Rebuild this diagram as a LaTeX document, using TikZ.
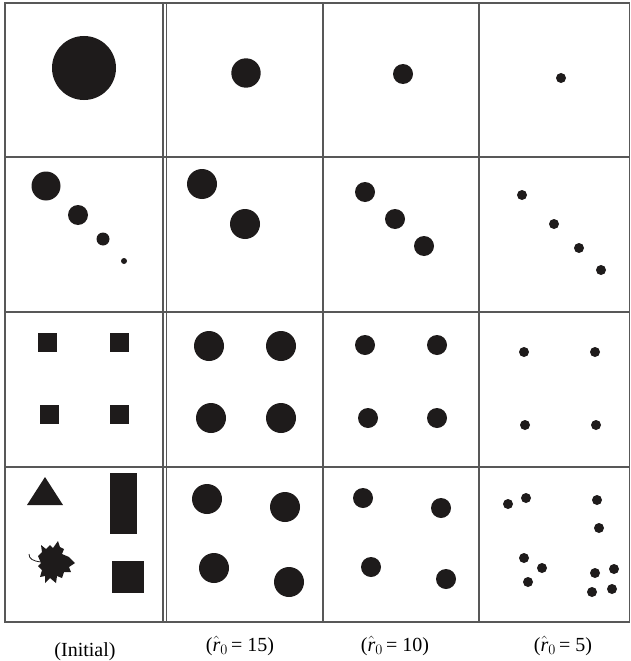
\documentclass[tikz,border=0pt]{standalone}
\usepackage{fontspec}
\setmainfont{Liberation Serif}
\usetikzlibrary{positioning}
\definecolor{GridGray}{RGB}{88,88,88}
\definecolor{InkBlack}{RGB}{30,27,27}

\newcommand{\rhatzero}{\(\hat{\mbox{\itshape r}}_{0}\)}

\tikzset{
  gridline/.style={GridGray,line width=1.1pt},
  blob/.style={fill=InkBlack},
  caption/.style={anchor=base,font=\fontsize{20}{23}\selectfont,inner sep=0pt}
}

\begin{document}
\begin{tikzpicture}[x=1pt,y=-1pt]
  \useasboundingbox (0,0) rectangle (631,661);
  % table lines
  \draw[gridline] (5,3) rectangle (629.5,622);
  \draw[gridline] (163,3)--(163,622);
  \draw[gridline] (166.5,3)--(166.5,622);
  \draw[gridline] (323,3)--(323,622);
  \draw[gridline] (479,3)--(479,622);
  \draw[gridline] (5,157)--(629.5,157);
  \draw[gridline] (5,312)--(629.5,312);
  \draw[gridline] (5,467)--(629.5,467);

  % row 1: one disc
  \fill[blob] (84,68) circle (32);
  \fill[blob] (246,73) circle (14.7);
  \fill[blob] (403,74) circle (10);
  \fill[blob] (561,78) circle (5);

  % row 2: discs on a diagonal
  \fill[blob] (46,186) circle (14.5);
  \fill[blob] (78,215) circle (10);
  \fill[blob] (103,239) circle (6.5);
  \fill[blob] (124,261) circle (3);
  \fill[blob] (202,184) circle (15);
  \fill[blob] (245,224) circle (15);
  \foreach \px/\py in {365/192,395/219,424/246}
    \fill[blob] (\px,\py) circle (10);
  \foreach \px/\py in {522/195,554/224,579/248,601/270}
    \fill[blob] (\px,\py) circle (5);

  % row 3: four squares
  \foreach \px/\py in {47/342,119/342,49/414,119/414}
    \fill[blob] (\px-9.5,\py-9.5) rectangle (\px+9.5,\py+9.5);
  \foreach \px/\py in {209/346,281/346,211/418,281/418}
    \fill[blob] (\px,\py) circle (15);
  \foreach \px/\py in {365/345,437/345,368/418,437/418}
    \fill[blob] (\px,\py) circle (10);
  \foreach \px/\py in {524/352,595/352,525/425,596/425}
    \fill[blob] (\px,\py) circle (5);

  % row 4: mixed shapes
  \fill[blob] (27,505)--(63,505)--(45,477)--cycle;
  \fill[blob] (110,473) rectangle (137,534);
  \fill[blob] (112,561) rectangle (144,593);
  \fill[blob] (41,563)--(38,556)--(42,552)--(41,545)--(46,549)--(50,545)--(53,548)
    --(58,541)--(60,547)--(64,549)--(62,554)--(69,557)--(75,563)--(69,567)--(71,572)
    --(64,572)--(62,578)--(57,576)--(56,583)--(50,578)--(45,583)--(45,576)--(40,577)
    --(42,570)--(38,566)--cycle;
  \draw[InkBlack,line width=0.8pt] (41,562) .. controls (33,561) and (29,559) .. (29,554);
  \foreach \px/\py in {207/499,285/507,214/568,289/582}
    \fill[blob] (\px,\py) circle (15);
  \foreach \px/\py in {363/498,441/508,371/567,446/579}
    \fill[blob] (\px,\py) circle (10);
  \foreach \px/\py in {508/504,526/498,597/500,599/528,524/558,542/568,528/582,
                       595/573,614/569,592/592,612/589}
    \fill[blob] (\px,\py) circle (5);

  % column captions
  \node[caption] (capinit) at (85,656) {(Initial)};
  \node[caption] (capfift) at (240,651) {(\rhatzero\,= 15)};
  \node[caption] (capten) at (395,651) {(\rhatzero\,= 10)};
  \node[caption] (capfive) at (563,651) {(\rhatzero\,= 5)};
\end{tikzpicture}
\end{document}
